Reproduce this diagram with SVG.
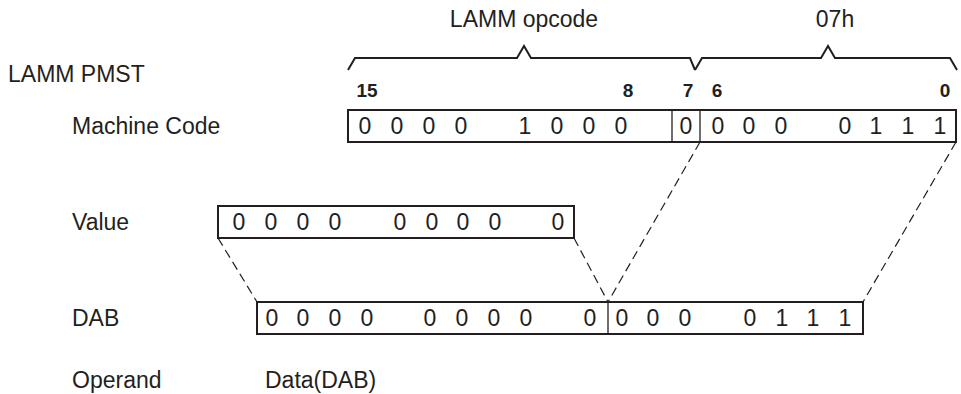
<svg xmlns="http://www.w3.org/2000/svg" width="961" height="394" viewBox="0 0 961 394">
<style>
text{font-family:"Liberation Sans",Arial,sans-serif;fill:#231f20}
.lbl{font-size:23px}
.d{font-size:23px;text-anchor:middle}
.b{font-size:19px;font-weight:bold;text-anchor:middle}
.box{fill:#fff;stroke:#231f20;stroke-width:2}
.div{stroke:#231f20;stroke-width:1.3}
.brace{fill:none;stroke:#231f20;stroke-width:2;stroke-linejoin:miter}
.dash{fill:none;stroke:#231f20;stroke-width:1.2;stroke-dasharray:9 5}
</style>
<rect width="961" height="394" fill="#fff"/>
<g id="header">
<text class="lbl" x="524" y="27" text-anchor="middle">LAMM opcode</text>
<text class="lbl" x="835" y="27" text-anchor="middle">07h</text>
<path class="brace" d="M348,70 L355,58 L517,58 L524,46 L531,58 L690,58 L695,70"/>
<path class="brace" d="M695,70 L702,58 L821,58 L828,46 L835,58 L950,58 L957,70"/>
<text class="lbl" x="8" y="82">LAMM PMST</text>
<text class="b" x="367" y="97">15</text>
<text class="b" x="628" y="97">8</text>
<text class="b" x="688" y="97">7</text>
<text class="b" x="717" y="97">6</text>
<text class="b" x="945" y="97">0</text>
</g>
<g id="connectors">
<line class="dash" x1="218" y1="238" x2="257" y2="302"/>
<line class="dash" x1="574" y1="238" x2="608" y2="302"/>
<line class="dash" x1="700" y1="142" x2="608" y2="302"/>
<line class="dash" x1="956" y1="142" x2="863" y2="302"/>
</g>
<g id="machine-code">
<text class="lbl" x="72" y="134">Machine Code</text>
<rect class="box" x="348" y="110" width="608" height="32"/>
<line class="div" x1="672" y1="110" x2="672" y2="142"/>
<line class="div" x1="700" y1="110" x2="700" y2="142"/>
<text class="d" y="134"><tspan x="365">0</tspan><tspan x="397">0</tspan><tspan x="429">0</tspan><tspan x="461">0</tspan><tspan x="525">1</tspan><tspan x="557">0</tspan><tspan x="589">0</tspan><tspan x="621">0</tspan><tspan x="686">0</tspan><tspan x="718">0</tspan><tspan x="749">0</tspan><tspan x="781">0</tspan><tspan x="845">0</tspan><tspan x="876">1</tspan><tspan x="908">1</tspan><tspan x="940">1</tspan></text>
</g>
<g id="value">
<text class="lbl" x="72" y="230">Value</text>
<rect class="box" x="218" y="206" width="356" height="32"/>
<text class="d" y="230"><tspan x="239">0</tspan><tspan x="271">0</tspan><tspan x="303">0</tspan><tspan x="335">0</tspan><tspan x="400">0</tspan><tspan x="432">0</tspan><tspan x="463">0</tspan><tspan x="495">0</tspan><tspan x="558">0</tspan></text>
</g>
<g id="dab">
<text class="lbl" x="72" y="326">DAB</text>
<rect class="box" x="257" y="302" width="606" height="32"/>
<line class="div" x1="608" y1="302" x2="608" y2="334"/>
<text class="d" y="326"><tspan x="272">0</tspan><tspan x="303">0</tspan><tspan x="335">0</tspan><tspan x="367">0</tspan><tspan x="430">0</tspan><tspan x="462">0</tspan><tspan x="494">0</tspan><tspan x="526">0</tspan><tspan x="590">0</tspan><tspan x="622">0</tspan><tspan x="653">0</tspan><tspan x="685">0</tspan><tspan x="750">0</tspan><tspan x="782">1</tspan><tspan x="813">1</tspan><tspan x="845">1</tspan></text>
</g>
<g id="operand">
<text class="lbl" x="72" y="388">Operand</text>
<text class="lbl" x="265" y="388">Data(DAB)</text>
</g>
</svg>
